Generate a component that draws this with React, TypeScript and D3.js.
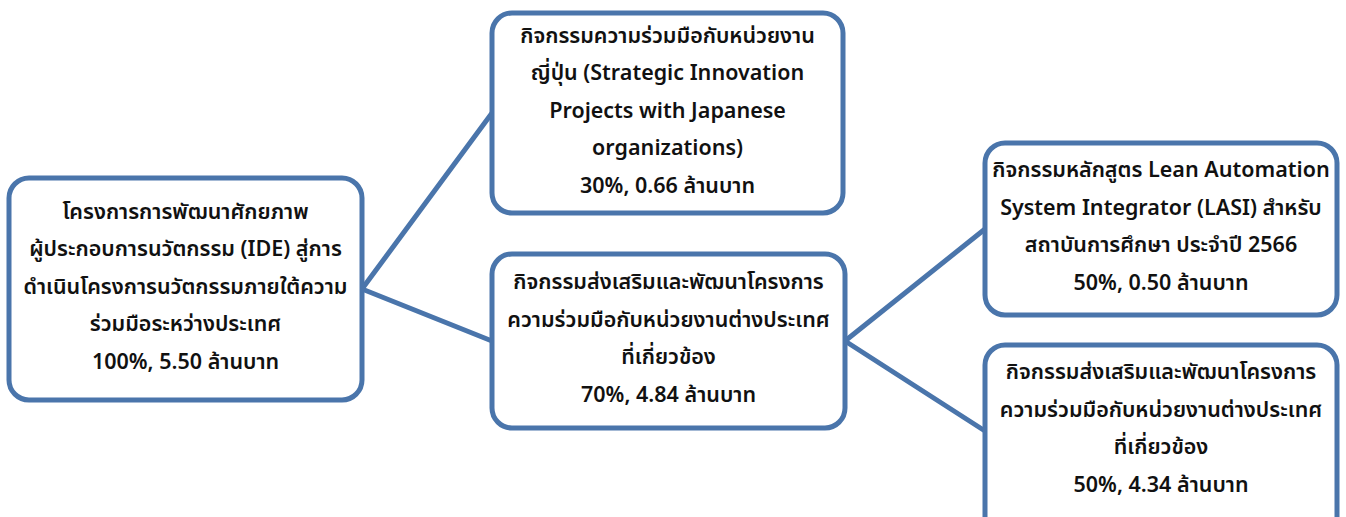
import React from "react";
import * as d3 from "d3";

// node text (line breaks as in the source) and values
const nodeLines: string[][] = [
  ["โครงการการพัฒนาศักยภาพ", "ผู้ประกอบการนวัตกรรม (IDE) สู่การ", "ดำเนินโครงการนวัตกรรมภายใต้ความ", "ร่วมมือระหว่างประเทศ"],
  ["กิจกรรมความร่วมมือกับหน่วยงาน", "ญี่ปุ่น (Strategic Innovation", "Projects with Japanese", "organizations)"],
  ["กิจกรรมส่งเสริมและพัฒนาโครงการ", "ความร่วมมือกับหน่วยงานต่างประเทศ", "ที่เกี่ยวข้อง"],
  ["กิจกรรมหลักสูตร Lean Automation", "System Integrator (LASI) สำหรับ", "สถาบันการศึกษา ประจำปี 2566"],
  ["กิจกรรมส่งเสริมและพัฒนาโครงการ", "ความร่วมมือกับหน่วยงานต่างประเทศ", "ที่เกี่ยวข้อง"],
];
const nodeParent = [-1, 0, 0, 2, 2];
const nodeShare = [100, 30, 70, 50, 50];
const nodeAmount = [5.5, 0.66, 4.84, 0.5, 4.34];

// box frames [x0, y0, x1, y1]
const frames: [number, number, number, number][] = [
  [9, 178, 362, 400],
  [492, 13, 843, 213],
  [492, 254, 845, 428],
  [985, 143, 1337, 315],
  [985, 345, 1337, 517],
];

const W = 1346;
const H = 517;
const BLUE = "#4a75ab";
const LINE_H = 37.5;

export default function App() {
  const fmt = d3.format(".2f");
  const line = d3.line<[number, number]>();

  const links = nodeParent
    .map((p, i) => ({ p, i }))
    .filter((d) => d.p >= 0)
    .map(({ p, i }) => {
      const a = frames[p];
      const b = frames[i];
      return line([
        [a[2], (a[1] + a[3]) / 2],
        [b[0], (b[1] + b[3]) / 2],
      ]);
    });

  return (
    <svg
      width={W}
      height={H}
      style={{ position: "absolute", left: 0, top: 0, background: "#fff" }}
      fontFamily="'Noto Sans Thai', Tahoma, 'Noto Sans', sans-serif"
    >
      {links.map((d, i) => (
        <path key={i} d={d ?? ""} stroke={BLUE} strokeWidth={5} fill="none" strokeLinecap="round" />
      ))}
      {frames.map(([x0, y0, x1, y1], i) => {
        const lines = [...nodeLines[i], `${nodeShare[i]}%, ${fmt(nodeAmount[i])} ล้านบาท`];
        const cx = (x0 + x1) / 2;
        const cy = (y0 + y1) / 2;
        const first = cy - ((lines.length - 1) * LINE_H) / 2 - 2;
        // box running off the bottom of the page: extend so no corner shows
        const ext = y1 >= H ? 30 : 0;
        return (
          <g key={i}>
            <rect x={x0} y={y0} width={x1 - x0} height={y1 - y0 + ext} rx={20} ry={20} fill="#fff" stroke={BLUE} strokeWidth={5} />
            {lines.map((t, j) => (
              <text
                key={j}
                x={cx}
                y={first + j * LINE_H}
                textAnchor="middle"
                dominantBaseline="central"
                fontSize={21.5}
                fontWeight={600}
                fill="#111"
              >
                {t}
              </text>
            ))}
          </g>
        );
      })}
    </svg>
  );
}
